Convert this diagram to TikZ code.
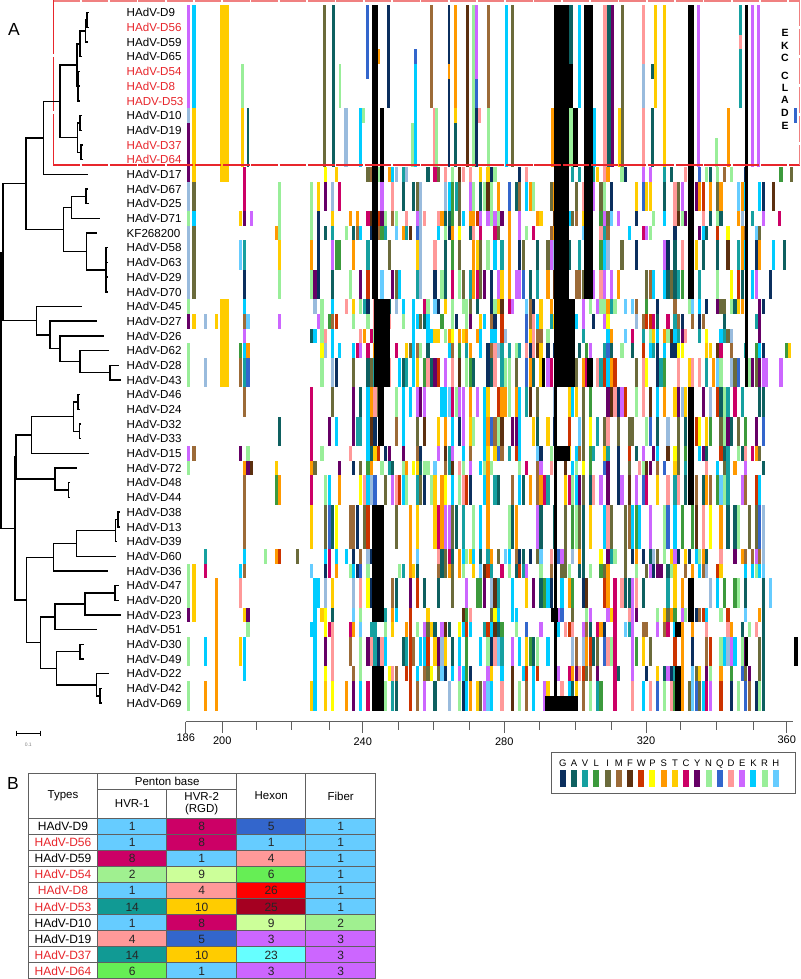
\documentclass[tikz,border=0pt]{standalone}
\usepackage{fontspec}
\setmainfont{Liberation Sans}
\definecolor{cG}{HTML}{0B2F5E}
\definecolor{cA}{HTML}{0E6060}
\definecolor{cV}{HTML}{16A0A0}
\definecolor{cL}{HTML}{3C9A3C}
\definecolor{cI}{HTML}{6B6B3B}
\definecolor{cM}{HTML}{9C6B38}
\definecolor{cF}{HTML}{5C3010}
\definecolor{cW}{HTML}{CC3300}
\definecolor{cP}{HTML}{FFFF00}
\definecolor{cS}{HTML}{FF9900}
\definecolor{cT}{HTML}{FFCC00}
\definecolor{cC}{HTML}{CC0066}
\definecolor{cY}{HTML}{660066}
\definecolor{cN}{HTML}{99EE99}
\definecolor{cQ}{HTML}{3366CC}
\definecolor{cD}{HTML}{FF9999}
\definecolor{cE}{HTML}{CC66FF}
\definecolor{cK}{HTML}{00CCFF}
\definecolor{cR}{HTML}{99EE99}
\definecolor{cH}{HTML}{66CCFF}
\definecolor{cSt}{HTML}{99BBDD}
\definecolor{ekcred}{HTML}{E8262C}
\definecolor{ekcpink}{HTML}{F08080}
\definecolor{tLG}{HTML}{A0F090}
\definecolor{tPY}{HTML}{CCFF99}
\definecolor{tGr}{HTML}{66EE55}
\definecolor{tRed}{HTML}{FF0000}
\definecolor{tDR}{HTML}{A50021}
\definecolor{tTeal}{HTML}{119A94}
\definecolor{tCy}{HTML}{66FFFF}
\definecolor{gridc}{HTML}{606060}
\pgfmathdeclarerandomlist{aacol}{{cK}{cK}{cK}{cS}{cS}{cS}{cA}{cA}{cA}{cV}{cV}{cN}{cN}{cN}{cE}{cE}{cD}{cD}{cT}{cT}{cI}{cI}{cG}{cG}{cQ}{cM}{cM}{cF}{cL}{cP}{cW}{cC}{cY}{cH}{cSt}}
\tikzset{
  tree/.style={line width=1.4pt, line cap=rect},
  lab/.style={font=\fontsize{11.6}{13}\selectfont, inner sep=0pt, anchor=west, text height=8.4pt, text depth=0pt},
  axl/.style={font=\fontsize{11}{13}\selectfont, inner sep=0pt, text height=8pt, text depth=0pt},
  leg/.style={font=\fontsize{9.5}{11}\selectfont, inner sep=0pt, text height=6.8pt, text depth=0pt},
  tc/.style={font=\fontsize{12}{14}\selectfont, inner sep=0pt, text height=8.6pt, text depth=0pt},
  th/.style={font=\fontsize{11.5}{13.5}\selectfont, inner sep=0pt, align=center},
  tgrid/.style={draw=gridc, line width=0.8pt},
  ekcl/.style={font=\bfseries\fontsize{10.5}{12}\selectfont, inner sep=0pt},
  panel/.style={font=\fontsize{17.5}{20}\selectfont, inner sep=0pt}
}
\newcommand\aafillcol[2]{%
  \pgfmathsetmacro\aax{186.3+3.53*#1}%
  \pgfmathrnd
  \pgfmathsetmacro\aacf{#2*(0.4+1.2*\pgfmathresult)}%
  \foreach \ra/\rb/\fa in {12/19/0.3,20/25/0.3,26/33/0.3,34/38/0.3,39/47/0.3,11/11/1,12/13/1,14/14/1,15/15/1,16/17/1,18/19/1,20/20/1,21/21/1,22/22/1,23/23/1,24/25/1,26/27/1,28/29/1,30/30/1,31/31/1,32/33/1,34/36/1,37/37/1,38/38/1,39/40/1,41/41/1,42/42/1,43/44/1,45/45/1,46/47/1}{%
    \pgfmathsetmacro\aap{\aacf*\fa}%
    \pgfmathrnd
    \ifdim\pgfmathresult pt<\aap pt
      \pgfmathrandomitem{\aac}{aacol}%
      \fill[\aac] (\aax,{5.4+14.69*\ra}) rectangle ({\aax+3.2},{5.4+14.69*(\rb+1)});%
    \fi
  }%
}
\begin{document}
\begin{tikzpicture}[x=1pt,y=-1pt]
\fill[white] (0,0) rectangle (800,979);
\useasboundingbox (0,0) rectangle (800,979);
\pgfmathsetseed{2718}
% ---------- random alignment texture, rows 11-47 ----------
\foreach \ci in {15,16,17,18,25,26,35,36,37,38,39,40}{\aafillcol{\ci}{0.30}}
\foreach \ci in {5,8,22,29,31}{\aafillcol{\ci}{0.07}}
\foreach \ci in {41,...,163}{\aafillcol{\ci}{0.42}}
\foreach \ci in {164,...,171}{\aafillcol{\ci}{0.05}}
% ---------- explicit bars ----------
\foreach \xa/\xb/\ra/\rb/\cl in {
 186.5/190/0/6/cE, 186.5/190/7/7/cSt, 186.5/190/8/11/cY, 186.5/190/12/13/cSt, 186.5/190/14/14/cN,
 186.5/190/15/19/cSt, 186.5/190/20/20/cN, 186.5/190/21/21/cY, 186.5/190/23/25/cN, 186.5/190/30/30/cE,
 186.5/190/31/31/cN, 186.5/190/38/40/cN, 186.5/190/41/41/cY, 186.5/190/43/44/cN, 186.5/190/46/47/cN,
 192/195.5/0/6/cK, 192/195.5/7/11/cT, 192/195.5/12/13/cI, 192/195.5/14/14/cK, 192/195.5/15/19/cI,
 192/195.5/21/21/cT, 192/195.5/30/30/cM, 192/195.5/38/41/cT,
 220.3/228.7/0/11/cT, 220.3/228.7/20/25/cT,
 241/243.7/4/6/cN, 241/243.7/7/10/cT, 247/249.3/7/10/cA,
 322.7/326/0/10/cI, 332/335.3/0/10/cA, 338.7/341/4/6/cN, 344.3/347.7/7/10/cSt,
 359/362/7/10/cK, 362/364.5/7/7/cN, 366/368.7/0/4/cQ, 377.7/380.3/3/3/cS, 387/390/0/6/cG,
 414/417/3/3/cQ, 414/417/4/10/cK, 411/414/8/10/cN, 430/432.7/0/6/cM, 432.7/435.3/7/10/cD,
 435.3/438.3/7/10/cN, 447.7/450.3/0/10/cG, 447.7/450.3/4/4/cS, 453.7/456.7/0/6/cS,
 453.7/456.7/7/7/cT, 453.7/456.7/8/10/cA, 466/468.7/0/10/cF, 472/474.7/0/10/cN,
 474.7/478/0/4/cE, 474.7/478/5/6/cQ, 474.7/478/7/10/cG, 478/481/7/7/cD, 487/490/0/6/cM,
 487/490/7/10/cN, 505/508.3/0/10/cK, 511/514/0/10/cI, 551/554/7/10/cS, 569.3/572.7/0/3/cA,
 569.3/572.7/7/10/cN, 578.3/581/0/6/cK, 593/595.5/7/10/cK, 603.3/606.7/0/10/cD,
 606.7/610.7/0/10/cA, 610.7/614/0/10/cY, 618.3/621/7/10/cT, 621/624/0/10/cI,
 641.7/645/0/3/cD, 641.7/645/4/6/cSt, 641.7/645/7/10/cD, 650.7/654/4/4/cA, 650.7/654/7/10/cA,
 654/656.7/0/6/cT, 662.7/666/0/10/cT, 696.7/700/0/10/cE, 715/717.7/9/10/cN, 727.3/730/7/10/cS,
 739.3/742.3/0/6/cV, 739.3/742.3/2/2/cD, 751/754/0/10/cE, 756.7/760/0/10/cE, 794/796.7/7/7/cQ,
 778/781/14/14/cC, 785/788/23/23/cL, 788/790.5/23/23/cT}{
  \fill[\cl] (\xa,{5.4+14.69*\ra}) rectangle (\xb,{5.4+14.69*(\rb+1)});
}
% ---------- black blocks ----------
\foreach \xa/\xb/\ra/\rb in {
 372/377.5/0/19, 380/384/7/11, 374/390/20/25, 378/384/26/29, 372/384/34/41, 372/384/45/47,
 554/569.3/0/19, 569.3/572.7/4/6, 572.7/578/7/10, 584.3/592.7/0/19, 687.7/694/0/19, 745/748.3/0/25,
 554/575/20/25, 542/544.5/24/25, 587/593/24/25, 554/570/30/30, 554/556.5/26/46, 688/694/26/33,
 551/558/41/41, 675/681/42/42, 688/694/39/41, 675/681/45/47, 545/578/47/47, 745/748.3/43/44,
 794/797.5/43/44}{
  \fill[black] (\xa,{5.4+14.69*\ra}) rectangle (\xb,{5.4+14.69*(\rb+1)});
}
% ---------- EKC box ----------
\draw[ekcpink, line width=2pt, dash pattern=on 26.6pt off 1.7pt] (53.3,1) -- (800,1);
\draw[ekcred, line width=1.3pt, dash pattern=on 26.6pt off 1.7pt] (53.3,165) -- (800,165);
\draw[ekcred, line width=0.9pt, dash pattern=on 54pt off 3pt] (53.3,0) -- (53.3,165);
\draw[ekcpink, line width=1.2pt, dash pattern=on 26pt off 3pt] (799.2,0) -- (799.2,165);
\foreach \lt/\yy [count=\i] in {E/33.3,K/46,C/58.3,C/75.5,L/88.3,A/100.3,D/113.3,E/126}{
  \node[ekcl] (ekc\i) at (785,\yy) {\lt};
}
% ---------- panel labels ----------
\node[panel] (pA) at (14,29) {A};
\node[panel] (pB) at (13,783) {B};
% ---------- taxon labels ----------
\foreach \nm/\cl [count=\i from 0] in {HAdV-D9/black,HAdV-D56/ekcred,HAdV-D59/black,HAdV-D65/black,HAdV-D54/ekcred,HAdV-D8/ekcred,HADV-D53/ekcred,HAdV-D10/black,HAdV-D19/black,HAdV-D37/ekcred,HAdV-D64/ekcred,HAdV-D17/black,HAdV-D67/black,HAdV-D25/black,HAdV-D71/black,KF268200/black,HAdV-D58/black,HAdV-D63/black,HAdV-D29/black,HAdV-D70/black,HAdV-D45/black,HAdV-D27/black,HAdV-D26/black,HAdV-D62/black,HAdV-D28/black,HAdV-D43/black,HAdV-D46/black,HAdV-D24/black,HAdV-D32/black,HAdV-D33/black,HAdV-D15/black,HAdV-D72/black,HAdV-D48/black,HAdV-D44/black,HAdV-D38/black,HAdV-D13/black,HAdV-D39/black,HAdV-D60/black,HAdV-D36/black,HAdV-D47/black,HAdV-D20/black,HAdV-D23/black,HAdV-D51/black,HAdV-D30/black,HAdV-D49/black,HAdV-D22/black,HAdV-D42/black,HAdV-D69/black}{
  \node[lab,text=\cl] (tx\i) at (126.5,{12.7+14.69*\i}) {\nm};
}
% ---------- tree ----------
\draw[tree]
 (87,12.70)--(88.5,12.70) (87,27.39)--(88.5,27.39) (87,12.70)--(87,27.39)
 (85.5,20.05)--(85.5,42.08) (85.5,20.05)--(87,20.05) (85.5,42.08)--(87,42.08)
 (80,31.07)--(80,56.77) (80,31.07)--(85.5,31.07) (80,56.77)--(81,56.77)
 (78,71.46)--(78,100.84) (78,71.46)--(79,71.46) (78,86.15)--(79,86.15) (78,100.84)--(79,100.84)
 (77,43.92)--(77,86.15) (77,43.92)--(80,43.92)
 (80,115.53)--(80,130.22) (80,115.53)--(81,115.53) (80,130.22)--(81,130.22)
 (81,144.91)--(81,159.60) (81,144.91)--(82,144.91) (81,159.60)--(82,159.60)
 (77.3,122.9)--(77.3,152.3) (77.3,122.9)--(80,122.9) (77.3,152.3)--(81,152.3)
 (60,65.0)--(60,137.6) (60,65.0)--(77,65.0) (60,137.6)--(77.3,137.6)
 (43.3,101.3)--(43.3,174.29) (43.3,101.3)--(60,101.3) (43.3,174.29)--(87.3,174.29)
 (86,188.98)--(86,203.67) (86,188.98)--(87.5,188.98) (86,203.67)--(88,203.67)
 (71.7,196.3)--(71.7,218.36) (71.7,196.3)--(86,196.3) (71.7,218.36)--(99,218.36)
 (106,247.74)--(106,291.81) (106,247.74)--(107.5,247.74) (106,262.43)--(107.5,262.43)
 (106,277.12)--(107.5,277.12) (106,291.81)--(107,291.81)
 (86.7,233.05)--(86.7,269.8) (86.7,233.05)--(96.7,233.05) (86.7,269.8)--(106,269.8)
 (63.3,207.3)--(63.3,251.4) (63.3,207.3)--(71.7,207.3) (63.3,251.4)--(86.7,251.4)
 (26,137.8)--(26,229.4) (26,137.8)--(43.3,137.8) (26,229.4)--(63.3,229.4)
 (110,365.26)--(110,379.95) (110,365.26)--(118.3,365.26) (110,379.95)--(120,379.95)
 (80,350.57)--(80,372.6) (80,350.57)--(108.3,350.57) (80,372.6)--(110,372.6)
 (60,335.88)--(60,361.6) (60,335.88)--(103.3,335.88) (60,361.6)--(80,361.6)
 (50,321.19)--(50,348.7) (50,321.19)--(96.7,321.19) (50,348.7)--(60,348.7)
 (36.7,306.5)--(36.7,335.0) (36.7,306.5)--(81.7,306.5) (36.7,335.0)--(50,335.0)
 (3,183.6)--(3,320.7) (3,183.6)--(26,183.6) (3,320.7)--(36.7,320.7)
 (78,394.64)--(78,409.33) (78,394.64)--(79.3,394.64) (78,409.33)--(79.3,409.33)
 (79.5,424.02)--(79.5,438.71) (79.5,424.02)--(80.5,424.02) (79.5,438.71)--(80.5,438.71)
 (73.3,402.0)--(73.3,431.4) (73.3,402.0)--(78,402.0) (73.3,431.4)--(79.5,431.4)
 (31.7,416.7)--(31.7,453.4) (31.7,416.7)--(73.3,416.7) (31.7,453.4)--(88.3,453.4)
 (68.3,482.78)--(68.3,497.47) (68.3,482.78)--(69.5,482.78) (68.3,497.47)--(69.5,497.47)
 (55,468.09)--(55,490.1) (55,468.09)--(76,468.09) (55,490.1)--(68.3,490.1)
 (16,435.0)--(16,479.1) (16,435.0)--(31.7,435.0) (16,479.1)--(55,479.1)
 (118,512.16)--(118,526.85) (118,512.16)--(119.5,512.16) (118,526.85)--(119.5,526.85)
 (115.5,519.5)--(115.5,541.54) (115.5,519.5)--(118,519.5) (115.5,541.54)--(116.5,541.54)
 (76.7,530.5)--(76.7,556.23) (76.7,530.5)--(115.5,530.5) (76.7,556.23)--(115,556.23)
 (53.3,543.4)--(53.3,570.92) (53.3,543.4)--(76.7,543.4) (53.3,570.92)--(107.3,570.92)
 (115,585.61)--(115,600.30) (115,585.61)--(118,585.61) (115,600.30)--(118,600.30)
 (85,593.0)--(85,614.99) (85,593.0)--(115,593.0) (85,614.99)--(120,614.99)
 (55,604.0)--(55,629.68) (55,604.0)--(85,604.0) (55,629.68)--(96,629.68)
 (80,644.37)--(80,659.06) (80,644.37)--(83,644.37) (80,659.06)--(83,659.06)
 (100,688.44)--(100,703.13) (100,688.44)--(101.5,688.44) (100,703.13)--(101.5,703.13)
 (96.7,673.75)--(96.7,695.8) (96.7,673.75)--(108.3,673.75) (96.7,695.8)--(100,695.8)
 (56.7,651.7)--(56.7,684.8) (56.7,651.7)--(80,651.7) (56.7,684.8)--(96.7,684.8)
 (40.7,616.8)--(40.7,668.2) (40.7,616.8)--(55,616.8) (40.7,668.2)--(56.7,668.2)
 (26.7,557.2)--(26.7,642.5) (26.7,557.2)--(53.3,557.2) (26.7,642.5)--(40.7,642.5)
 (15,457.1)--(15,599.9) (15,457.1)--(16,457.1) (15,599.9)--(26.7,599.9)
 (0.8,252.2)--(0.8,528.5) (0.8,252.2)--(3,252.2) (0.8,528.5)--(15,528.5);
% ---------- scale bar ----------
\draw[line width=0.9pt] (16,733) -- (40.7,733) (16,730.5) -- (16,735.5) (40.7,730.5) -- (40.7,735.5);
\node[font=\fontsize{5}{6}\selectfont, inner sep=0pt, text=gray] (sc) at (28.3,744.5) {0.1};
% ---------- axis ----------
\draw[gridc, line width=0.9pt] (185.7,721.7) -- (793,721.7);
\foreach \xx in {185.7,222.3,362.7,504.3,646,786.7}{\draw[gridc, line width=0.9pt] (\xx,721.7) -- (\xx,733);}
\foreach \xx in {256,291.7,329.3,398.3,433.7,469,539.6,575,611.7,680.7,716.7,753.3}{\draw[gridc, line width=0.9pt] (\xx,721.7) -- (\xx,730);}
\node[axl] (a186) at (185.7,737) {186};
\node[axl] (a200) at (222.3,740) {200};
\node[axl] (a240) at (362.7,741) {240};
\node[axl] (a280) at (504.3,741) {280};
\node[axl] (a320) at (646,740) {320};
\node[axl] (a360) at (786.7,739) {360};
% ---------- legend ----------
\draw[gridc, line width=0.8pt] (551.7,752.7) rectangle (795,793.3);
\foreach \lt/\cl [count=\i from 0] in {G/cG,A/cA,V/cV,L/cL,I/cI,M/cM,F/cF,W/cW,P/cP,S/cS,T/cT,C/cC,Y/cY,N/cN,Q/cQ,D/cD,E/cE,K/cK,R/cR,H/cH}{
  \pgfmathsetmacro\lx{562.7+11.22*\i}
  \node[leg] (lg\i) at (\lx,762.7) {\lt};
  \fill[\cl] ({\lx-3},770) rectangle ({\lx+3},786.7);
}
% ---------- table ----------
\foreach \tnm/\tnc/\tva/\tca/\tvb/\tcb/\tvh/\tch/\tvf/\tcf [count=\i from 0] in {
 HAdV-D9/black/1/cH/8/cC/5/cQ/1/cH,
 HAdV-D56/ekcred/1/cH/8/cC/1/cH/1/cH,
 HAdV-D59/black/8/cC/1/cH/4/cD/1/cH,
 HAdV-D54/ekcred/2/tLG/9/tPY/6/tGr/1/cH,
 HAdV-D8/ekcred/1/cH/4/cD/26/tRed/1/cH,
 HAdV-D53/ekcred/14/tTeal/10/cT/25/tDR/1/cH,
 HAdV-D10/black/1/cH/8/cC/9/tPY/2/tLG,
 HAdV-D19/black/4/cD/5/cQ/3/cE/3/cE,
 HAdV-D37/ekcred/14/tTeal/10/cT/23/tCy/3/cE,
 HAdV-D64/ekcred/6/tGr/1/cH/3/cE/3/cE}{
  \pgfmathsetmacro\yt{818.3+16.04*\i}
  \pgfmathsetmacro\ym{\yt+8.2}
  \fill[\tca] (97.7,\yt) rectangle (166.7,{\yt+16.04});
  \fill[\tcb] (166.7,\yt) rectangle (236.7,{\yt+16.04});
  \fill[\tch] (236.7,\yt) rectangle (305.7,{\yt+16.04});
  \fill[\tcf] (305.7,\yt) rectangle (375.7,{\yt+16.04});
  \node[tc,text=\tnc] (ty\i) at (63,\ym) {\tnm};
  \node[tc,text=black!85] (ta\i) at (132.2,\ym) {\tva};
  \node[tc,text=black!85] (tb\i) at (201.7,\ym) {\tvb};
  \node[tc,text=black!85] (th\i) at (271.2,\ym) {\tvh};
  \node[tc,text=black!85] (tf\i) at (340.7,\ym) {\tvf};
}
\draw[tgrid] (28.3,773.3) rectangle (375.7,978.7);
\draw[tgrid] (97.7,789.3) -- (236.7,789.3);
\foreach \xx in {97.7,236.7,305.7}{\draw[tgrid] (\xx,773.3) -- (\xx,978.7);}
\draw[tgrid] (166.7,789.3) -- (166.7,978.7);
\foreach \i in {0,...,9}{\draw[tgrid] (28.3,{818.3+16.04*\i}) -- (375.7,{818.3+16.04*\i});}
\node[th] (hpb) at (167.2,781.5) {Penton base};
\node[th] (hty) at (63,796) {Types};
\node[th] (hv1) at (132.2,804) {HVR-1};
\node[th] (hv2) at (201.7,803.5) {HVR-2\\[-2pt](RGD)};
\node[th] (hhx) at (271.2,796) {Hexon};
\node[th] (hfb) at (340.7,796) {Fiber};
\end{tikzpicture}
\end{document}
